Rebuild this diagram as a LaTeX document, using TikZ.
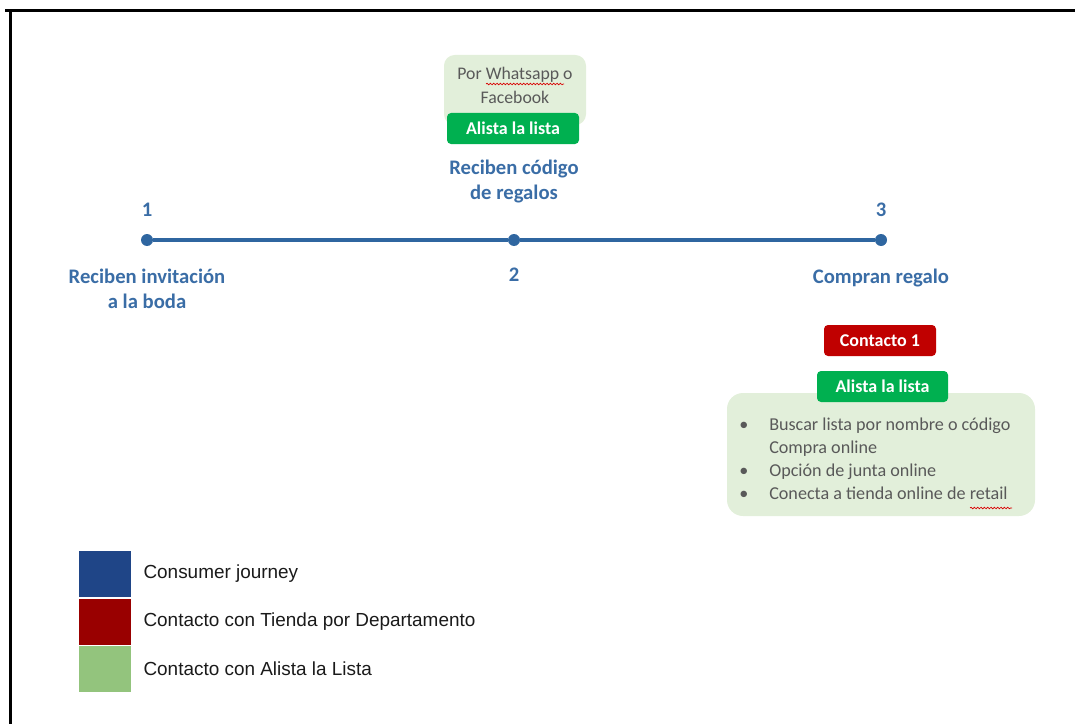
\documentclass[tikz,border=0pt]{standalone}
\usepackage{fontspec}
\setmainfont{Carlito}
\newfontfamily\legendfont{Liberation Sans}
\usetikzlibrary{positioning,decorations.pathmorphing}
\definecolor{Journey}{HTML}{2F66A0}
\definecolor{JourneyText}{HTML}{3A6DA6}
\definecolor{AlistaGreen}{HTML}{00B050}
\definecolor{TiendaRed}{HTML}{C00000}
\definecolor{NoteGreen}{HTML}{E2EFDA}
\definecolor{NoteText}{HTML}{595959}
\definecolor{LegendBlue}{HTML}{1F4587}
\definecolor{LegendRed}{HTML}{990000}
\definecolor{LegendGreen}{HTML}{93C47D}
\definecolor{LegendText}{HTML}{1A1A1A}

\begin{document}
\begin{tikzpicture}[x=0.75pt, y=-0.75pt,
  dot/.style={circle, fill=Journey, inner sep=0pt, minimum size=9pt},
  stage/.style={text=JourneyText, font=\fontsize{15.5}{18.75}\selectfont\bfseries, align=center, inner sep=0pt},
  tag/.style={rounded corners=3pt, text=white, font=\fontsize{13.5}{16}\selectfont\bfseries, minimum height=23.25pt, inner sep=0pt},
  note/.style={rounded corners=8pt, fill=NoteGreen, inner sep=0pt},
  notetext/.style={text=NoteText, inner sep=0pt},
  swatch/.style={minimum width=39pt, minimum height=34.5pt, inner sep=0pt},
  legendtext/.style={font=\legendfont\fontsize{14.2}{16}\selectfont, text=LegendText, inner sep=0pt},
  squiggle/.style={red!85!black, line width=0.5pt, decorate, decoration={snake, amplitude=0.6pt, segment length=2.5pt}}]
\useasboundingbox (0,0) rectangle (1075,724);
\draw[line width=2.25pt] (5,11) -- (1075,11);
\draw[line width=2.25pt] (10.5,10) -- (10.5,724);

% consumer journey
\node[dot] (d1) at (147,240) {};
\node[dot] (d2) at (514,240) {};
\node[dot] (d3) at (881,240) {};
\draw[Journey, line width=3pt] (d1) -- (d2) -- (d3);
\node[stage, above=12.75pt of d1] (n1) {1};
\node[stage, below=15.75pt of d2] (n2) {2};
\node[stage, above=12.75pt of d3] (n3) {3};
\node[stage, below=17pt of d1] (s1) {Reciben invitación\\a la boda};
\node[stage, above=23pt of d2] (s2) {Reciben código\\de regalos};
\node[stage, below=17pt of d3] (s3) {Compran regalo};

% contacto en la etapa 2
\node[note, minimum width=106.5pt, minimum height=52.5pt] (note2) at (515,90) {};
\node[notetext, font=\fontsize{13.3}{18}\selectfont, align=center] (note2txt) at (515,85) {Por Whatsapp o\\Facebook};
\draw[squiggle] (486,84) -- (564,84);
\node[tag, fill=AlistaGreen, minimum width=99pt] (alista2) at (513,128.5) {Alista la lista};

% contactos en la etapa 3
\node[tag, fill=TiendaRed, minimum width=84pt] (contacto3) at (880,340.5) {Contacto 1};
\node[note, rounded corners=12pt, minimum width=231pt, minimum height=92.25pt] (note3) at (881,454.5) {};
\node[tag, fill=AlistaGreen, minimum width=98.25pt] (alista3) at (882.5,386.5) {Alista la lista};
\node[notetext, font=\fontsize{13.6}{17.25}\selectfont, anchor=west] (list3) at (739,460) {%
  \begin{tabular}{@{}p{22.5pt}@{}l@{}}
  \textbullet & Buscar lista por nombre o código\\
   & Compra online\\
  \textbullet & Opción de junta online\\
  \textbullet & Conecta a tienda online de retail
  \end{tabular}};
\draw[squiggle] (970,508) -- (1012,508);

% leyenda
\node[swatch, fill=LegendBlue] (key1) at (105,574) {};
\node[swatch, fill=LegendRed, below=0.75pt of key1] (key2) {};
\node[swatch, fill=LegendGreen, below=0.75pt of key2] (key3) {};
\node[legendtext, right=9pt of key1] (lab1) {Consumer journey};
\node[legendtext, right=9pt of key2] (lab2) {Contacto con Tienda por Departamento};
\node[legendtext, right=9pt of key3] (lab3) {Contacto con Alista la Lista};
\end{tikzpicture}
\end{document}
